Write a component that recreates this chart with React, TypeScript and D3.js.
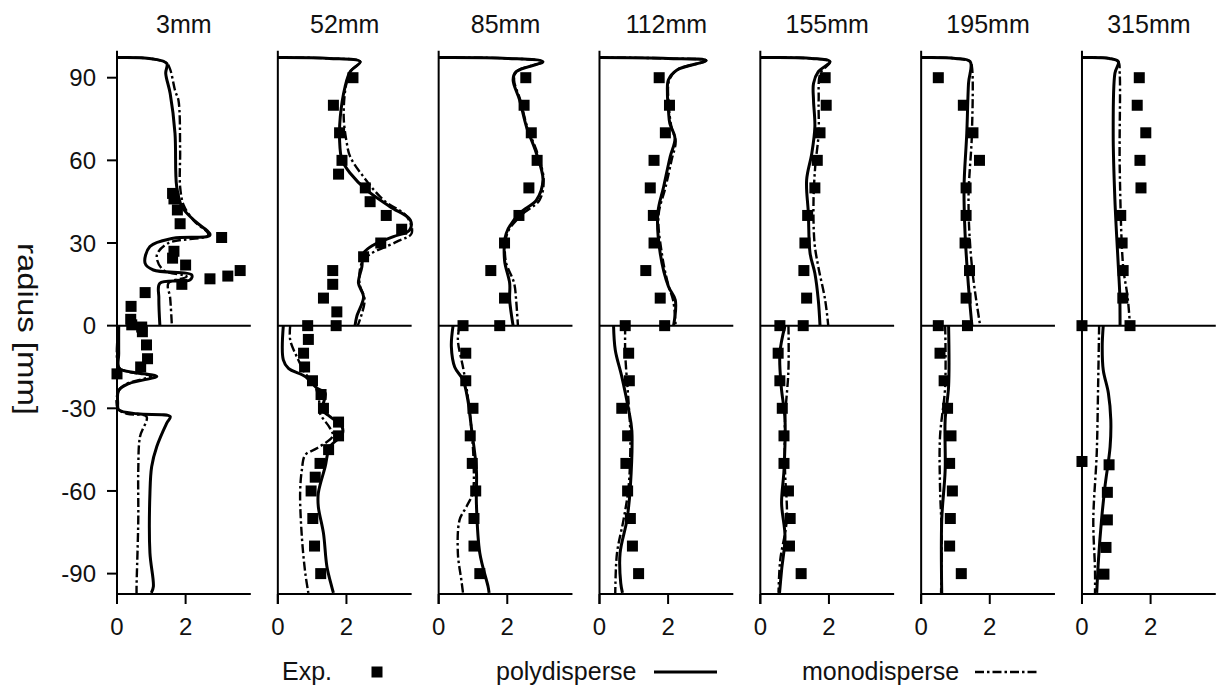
import React from "react";
import * as d3 from "d3";

type Pt = [number, number] | null;

// Measurement stations (axial distance)
const stations = ["3mm", "52mm", "85mm", "112mm", "155mm", "195mm", "315mm"];

// Tick values
const xTicks = [0, 2];
const yTicks = [-90, -60, -30, 0, 30, 60, 90];

// ---- 3mm ----
const exp3 = [[1.62,48],[1.66,46],[1.76,42],[1.84,37],[3.05,32],[1.66,27],[1.62,24.5],[2.0,22],[3.59,20],[3.23,18],[2.71,17],[1.89,15],[0.82,12],[0.41,7],[0.4,2.3],[0.43,0.3],[0.72,-0.5],[0.74,-2.2],[0.86,-7],[0.89,-12],[0.69,-15],[0,-17.5]];
const poly3: Pt[] = [[0,97.3],[1.0,96.9],[1.45,95.2],[1.42,91.6],[1.55,84.3],[1.69,69.9],[1.74,50.4],[1.89,43.2],[2.23,38.4],[2.71,32.9],[1.64,31.7],[0.96,28.7],[0.82,22.6],[1.06,20.2],[2.18,18.4],[2.13,16.6],[1.25,15.4],[1.22,10],[1.25,0],
  null,[0.05,0],[0.05,-10],[0.06,-15.5],[0.4,-16.8],[1.16,-18.4],[0.35,-21],[0.05,-23.5],[0.02,-28],[0.05,-30.5],[0.6,-32],[1.55,-33],[1.45,-35.4],[1.16,-43.9],[1.01,-51.2],[0.96,-60.8],[0.96,-82.5],[1.06,-94.7],[1.0,-97]];
const mono3: Pt[] = [[0,97.3],[1.0,96.9],[1.45,95.2],[1.55,93],[1.7,85],[1.79,81.9],[1.84,63.7],[1.84,50.4],[1.95,43.5],[2.25,38],[2.66,32.9],[1.5,30],[1.16,25.5],[1.35,20.2],[2.03,17.8],[1.5,15.4],[1.55,10],[1.6,0],
  null,[0.05,0],[0.05,-15],[0.35,-16.8],[1.0,-18.3],[0.3,-21],[0.05,-23.5],[0.02,-30],[0.3,-32],[0.86,-33],[0.67,-40.3],[0.62,-52.4],[0.62,-70.5],[0.57,-94.7],[0.57,-97]];

// ---- 52mm ----
const exp52 = [[2.19,90],[1.62,80],[1.8,70],[1.87,60],[1.77,55],[2.55,50],[2.69,45],[3.16,40],[3.61,35],[3.0,30],[2.5,25],[1.6,20],[1.6,15],[1.33,10],[1.72,5],[1.7,0],[0.87,0],[0.89,-5],[0.75,-10],[0.78,-15],[1.01,-20],[1.26,-25],[1.33,-30],[1.77,-35],[1.77,-40],[1.48,-45],[1.23,-50],[1.09,-55],[0.97,-60],[1.02,-70],[1.07,-80],[1.25,-90]];
const poly52: Pt[] = [[0,97.3],[1.5,97],[2.4,95.8],[2.11,92.2],[1.96,86.7],[1.82,75.8],[1.8,67.4],[1.87,60.1],[2.11,55.3],[2.59,49.2],[3.27,43.2],[3.86,38.4],[3.84,34.7],[3.37,32.3],[2.79,29.3],[2.5,26.3],[2.45,21.4],[2.35,15.4],[2.5,10.5],[2.3,3.3],[2.25,0],
  null,[0.16,0],[0.16,-12.4],[0.31,-15.5],[0.8,-18.5],[1.14,-22.7],[1.38,-24.5],[1.3,-30.6],[1.52,-33],[1.87,-36.6],[1.87,-39.7],[1.52,-43.9],[1.38,-51.2],[1.18,-60.8],[1.18,-65.7],[1.33,-75.3],[1.43,-87.4],[1.57,-94.7],[1.62,-97]];
const mono52: Pt[] = [[0,97.3],[1.5,97],[2.4,95.8],[2.11,92.2],[1.98,86.7],[1.92,75.8],[2.0,67],[2.11,61.3],[2.5,54],[3.08,45.6],[3.76,39.6],[3.9,33.5],[3.47,30.5],[2.5,23.9],[2.38,15.4],[2.53,9.3],[2.33,0],
  null,[0.36,0],[0.36,-5.2],[0.55,-11.2],[0.8,-17.3],[1.09,-22.1],[1.2,-27],[1.23,-31.8],[1.52,-37.2],[1.6,-40],[1.14,-44.5],[0.8,-46.9],[0.7,-52.4],[0.65,-60.8],[0.7,-76.6],[0.8,-89.8],[0.89,-97]];

// ---- 85mm ----
const exp85 = [[2.54,90],[2.49,80],[2.7,70],[2.87,60],[2.63,50],[2.34,40],[1.92,30],[1.52,20],[1.92,10],[1.78,0],[0.71,0],[0.79,-10],[0.79,-20],[1.0,-30],[0.92,-40],[0.98,-50],[1.08,-60],[1.03,-70],[1.03,-80],[1.2,-90]];
const poly85: Pt[] = [[0,97.3],[2.0,97],[3.04,95.8],[2.26,92.2],[2.17,89.2],[2.36,81.9],[2.56,72.2],[2.85,62.5],[3.04,52.9],[2.85,45.6],[2.36,40.8],[1.97,33.5],[1.92,23.8],[2.07,15.4],[2.07,9.3],[2.17,0],
  null,[0.42,0],[0.37,-7.6],[0.47,-15.1],[0.71,-19.7],[0.85,-27],[0.95,-36.6],[1.1,-52.4],[1.1,-64.5],[1.2,-82.6],[1.44,-94.7],[1.47,-97]];
const mono85: Pt[] = [[0,97.3],[2.0,97],[3.04,95.8],[2.26,92.2],[2.2,89],[2.38,81.9],[2.58,72.2],[2.88,62.5],[3.06,53],[2.94,45.6],[2.4,40],[2.0,33.5],[1.95,23.8],[2.2,15.4],[2.26,9],[2.31,0],
  null,[0.61,0],[0.56,-5.2],[0.71,-15.1],[0.81,-22.3],[0.93,-34.2],[1.02,-50],[0.99,-60.8],[0.81,-65.7],[0.61,-70.5],[0.56,-82.6],[0.66,-92.2],[0.71,-97]];

// ---- 112mm ----
const exp112 = [[1.74,90],[2.04,80],[1.92,70],[1.59,60],[1.48,50],[1.57,40],[1.59,30],[1.35,20],[1.77,10],[1.9,0],[0.75,0],[0.85,-10],[0.87,-20],[0.65,-30],[0.82,-40],[0.77,-50],[0.82,-60],[0.9,-70],[0.96,-80],[1.14,-90]];
const poly112: Pt[] = [[0,97.3],[2.0,97],[3.11,96.2],[2.26,92.8],[2.01,89.2],[1.98,84.3],[2.01,78.2],[2.05,73.4],[2.2,68],[2.06,61.3],[1.87,50.4],[1.7,40.8],[1.77,26.3],[2.01,14.2],[2.21,9.3],[2.16,0],
  null,[0.41,0],[0.46,-8.8],[0.65,-18.5],[0.85,-30.6],[0.94,-37.8],[0.9,-58.4],[0.8,-70.5],[0.6,-82.6],[0.62,-93.5],[0.67,-97]];
const mono112: Pt[] = [[0,97.3],[2.0,97],[3.11,96.2],[2.26,92.8],[2.03,89],[2.02,80],[2.1,72],[2.22,67],[2.1,60],[1.92,50],[1.72,40],[1.82,26],[2.0,15],[2.15,9],[2.22,0],
  null,[0.75,0],[0.75,-10],[0.85,-28.2],[0.9,-40.3],[0.85,-58.4],[0.7,-70.5],[0.51,-82.6],[0.46,-97]];

// ---- 155mm ----
const exp155 = [[1.89,90],[1.92,80],[1.74,70],[1.66,60],[1.59,50],[1.38,40],[1.3,30],[1.27,20],[1.35,10],[1.25,0],[0.57,0],[0.52,-10],[0.57,-20],[0.64,-30],[0.69,-40],[0.69,-50],[0.82,-60],[0.87,-70],[0.85,-80],[1.19,-90]];
const poly155: Pt[] = [[0,97.3],[1.5,97],[2.03,95.8],[1.69,92.2],[1.55,87.9],[1.55,81.9],[1.59,72.2],[1.5,62.5],[1.35,52.9],[1.4,40.8],[1.45,26.3],[1.59,19],[1.69,9.3],[1.74,0],
  null,[0.72,0],[0.57,-10],[0.61,-22.1],[0.72,-34.2],[0.69,-52.4],[0.62,-64.5],[0.72,-76.6],[0.62,-88.7],[0.56,-97]];
const mono155: Pt[] = [[0,97.3],[1.5,97],[2.03,95.8],[1.75,91.6],[1.7,81.9],[1.7,69.8],[1.6,57.7],[1.55,45],[1.58,30],[1.69,21.4],[1.89,9.3],[1.98,0],
  null,[0.82,0],[0.82,-16.1],[0.72,-34.2],[0.72,-52.4],[0.77,-70.5],[0.58,-85.1],[0.53,-97]];

// ---- 195mm ----
const exp195 = [[0.5,90],[1.23,80],[1.51,70],[1.7,60],[1.31,50],[1.31,40],[1.28,30],[1.41,20],[1.31,10],[1.35,0],[0.5,0],[0.55,-10],[0.67,-20],[0.77,-30],[0.87,-40],[0.83,-50],[0.91,-60],[0.85,-70],[0.83,-80],[1.17,-90]];
const poly195: Pt[] = [[0,97.3],[1.0,97],[1.43,95.8],[1.38,87.9],[1.33,69.8],[1.25,50.4],[1.28,33.5],[1.38,14.2],[1.48,0],
  null,[0.8,0],[0.8,-22.1],[0.7,-34.2],[0.7,-52.4],[0.6,-70.5],[0.6,-97]];
const mono195: Pt[] = [[0,97.3],[1.0,97],[1.43,95.8],[1.48,94],[1.48,69.8],[1.38,45.6],[1.48,21.4],[1.72,0],
  null,[0.7,0],[0.7,-22.1],[0.55,-40.3],[0.55,-58.4],[0.6,-76.6],[0.58,-97]];

// ---- 315mm ----
const exp315 = [[1.67,90],[1.61,80],[1.86,70],[1.69,60],[1.72,50],[1.13,40],[1.17,30],[1.2,20],[1.19,10],[1.4,0],[0,0],[0,-49.3],[0.79,-50.5],[0.74,-60.5],[0.74,-70.5],[0.7,-80.5],[0.64,-90.2]];
const poly315: Pt[] = [[0,97.3],[0.8,97],[1.06,95.8],[0.96,91.6],[0.91,69.8],[0.96,45.6],[1.06,21.4],[1.1,11.7],[1.11,0],
  null,[0.62,0],[0.59,-7.6],[0.62,-16.1],[0.77,-24.5],[0.84,-34.2],[0.82,-43.9],[0.67,-58.4],[0.57,-70.5],[0.48,-85.1],[0.43,-97]];
const mono315: Pt[] = [[0,97.3],[0.8,97],[1.06,95.8],[1.1,91.6],[1.1,57.7],[1.2,21.4],[1.3,13],[1.35,8],[1.4,0],
  null,[0.5,0],[0.47,-22.1],[0.43,-46.3],[0.33,-70.5],[0.38,-88.7],[0.38,-97]];

const expData = [exp3, exp52, exp85, exp112, exp155, exp195, exp315];
const polyData = [poly3, poly52, poly85, poly112, poly155, poly195, poly315];
const monoData = [mono3, mono52, mono85, mono112, mono155, mono195, mono315];

const FONT = "'Liberation Sans', Arial, Helvetica, sans-serif";
const W = 1218;
const H = 687;
const firstLeft = 117;
const panelStep = 160.83;
const panelWidth = 133.8;
const xMax = 3.9;

const yScale = d3.scaleLinear().domain([-97.4, 99.8]).range([594, 50.7]);
const DASH_DOT = "9,3,2.5,3";
const POLY_W = 3;
const MONO_W = 2.4;

function Panel({ index }: { index: number }) {
  const left = firstLeft + index * panelStep;
  const x = d3.scaleLinear().domain([0, xMax]).range([left, left + panelWidth]);
  const line = d3
    .line<Pt>()
    .defined((d) => d !== null)
    .x((d) => x((d as [number, number])[0]))
    .y((d) => yScale((d as [number, number])[1]))
    .curve(d3.curveCatmullRom.alpha(0.5));
  const y0 = yScale(0);
  const yBottom = yScale.range()[0];
  const yTop = yScale.range()[1];
  const sq = 11;
  return (
    <g>
      <text x={left + panelWidth / 2} y={33} textAnchor="middle" fontSize={25} fontFamily={FONT} fill="#111">
        {stations[index]}
      </text>
      {/* axes */}
      <line x1={left} x2={left} y1={yTop} y2={yBottom + 10} stroke="#000" strokeWidth={2} />
      <line x1={left} x2={left + panelWidth} y1={yBottom} y2={yBottom} stroke="#000" strokeWidth={2} />
      <line x1={left} x2={left + panelWidth} y1={y0} y2={y0} stroke="#000" strokeWidth={2} />
      {xTicks.map((t) => (
        <g key={t}>
          <line x1={x(t)} x2={x(t)} y1={yBottom} y2={yBottom + 10} stroke="#000" strokeWidth={2} />
          <text x={x(t)} y={635} textAnchor="middle" fontSize={24} fontFamily={FONT} fill="#111">
            {t}
          </text>
        </g>
      ))}
      {index === 0 &&
        yTicks.map((t) => (
          <g key={t}>
            <line x1={left - 10} x2={left} y1={yScale(t)} y2={yScale(t)} stroke="#000" strokeWidth={2} />
            <text x={left - 21} y={yScale(t)} dy="0.36em" textAnchor="end" fontSize={24} fontFamily={FONT} fill="#111">
              {t}
            </text>
          </g>
        ))}
      {/* profiles */}
      <path d={line(monoData[index]) || ""} fill="none" stroke="#000" strokeWidth={MONO_W} strokeDasharray={DASH_DOT} />
      <path d={line(polyData[index]) || ""} fill="none" stroke="#000" strokeWidth={POLY_W} />
      {expData[index].map((d, i) => (
        <rect key={i} x={x(d[0]) - sq / 2} y={yScale(d[1]) - sq / 2} width={sq} height={sq} fill="#000" />
      ))}
    </g>
  );
}

export default function App() {
  return (
    <svg
      width={W}
      height={H}
      viewBox={`0 0 ${W} ${H}`}
      style={{ position: "absolute", left: 0, top: 0, background: "#fff" }}
    >
      <rect width={W} height={H} fill="#fff" />
      <text
        transform="translate(27.5,329) rotate(90)"
        textAnchor="middle"
        dominantBaseline="central"
        fontSize={28}
        fontFamily={FONT}
        fill="#111"
        textLength={172}
        lengthAdjust="spacingAndGlyphs"
      >
        radius [mm]
      </text>
      {stations.map((_, i) => (
        <Panel key={i} index={i} />
      ))}
      {/* legend */}
      <g fontFamily={FONT} fontSize={25} fill="#111">
        <text x={282} y={680}>Exp.</text>
        <rect x={371.5} y={666.5} width={11} height={11} fill="#000" />
        <text x={496} y={680}>polydisperse</text>
        <line x1={654} x2={717} y1={672} y2={672} stroke="#000" strokeWidth={POLY_W} />
        <text x={802} y={680}>monodisperse</text>
        <line x1={975} x2={1037} y1={672} y2={672} stroke="#000" strokeWidth={MONO_W} strokeDasharray={DASH_DOT} />
      </g>
    </svg>
  );
}
